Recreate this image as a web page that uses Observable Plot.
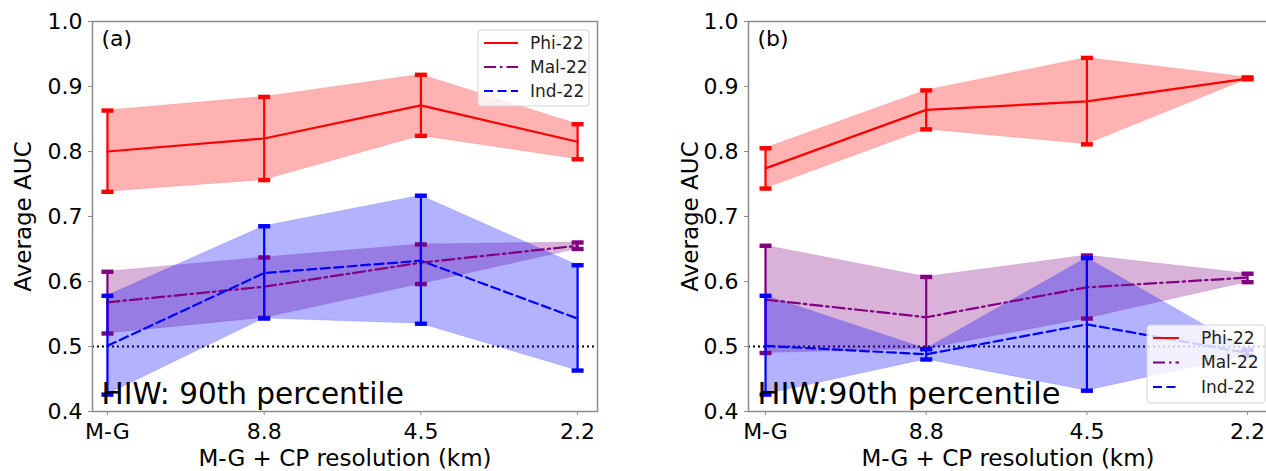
<!DOCTYPE html>
<html>
<head>
<meta charset="utf-8">
<script src="https://cdn.jsdelivr.net/npm/d3@7"></script>
<script src="https://cdn.jsdelivr.net/npm/@observablehq/plot@0.6"></script>
<style>
  html, body { margin: 0; padding: 0; background: #fff; overflow: hidden; width: 1266px; height: 471px; }
  #wrap { position: relative; width: 1266px; height: 471px; }
  #wrap svg { position: absolute; top: 0; overflow: visible; }
</style>
</head>
<body>
<div id="wrap"></div>
<script>
// Model set-up along the x axis and the three events
const resolutions = ["M-G", "8.8", "4.5", "2.2"];
const regions = ["Phi-22", "Mal-22", "Ind-22"];
const yTicks = [0.4, 0.5, 0.6, 0.7, 0.8, 0.9, 1.0];
const chance = 0.5;
const xTitle = "M-G + CP resolution (km)";
const yTitle = "Average AUC";

// Panel (a): mean AUC with lower / upper bounds
const aPhiMean = [0.800, 0.820, 0.871, 0.815];
const aPhiLow  = [0.738, 0.756, 0.824, 0.788];
const aPhiHigh = [0.863, 0.884, 0.918, 0.842];
const aMalMean = [0.568, 0.592, 0.629, 0.655];
const aMalLow  = [0.520, 0.544, 0.596, 0.650];
const aMalHigh = [0.615, 0.637, 0.657, 0.660];
const aIndMean = [0.501, 0.613, 0.632, 0.543];
const aIndLow  = [0.426, 0.543, 0.535, 0.463];
const aIndHigh = [0.578, 0.685, 0.732, 0.625];

// Panel (b)
const bPhiMean = [0.774, 0.864, 0.877, 0.912];
const bPhiLow  = [0.743, 0.834, 0.811, 0.911];
const bPhiHigh = [0.805, 0.894, 0.944, 0.914];
const bMalMean = [0.572, 0.545, 0.591, 0.606];
const bMalLow  = [0.490, 0.496, 0.543, 0.599];
const bMalHigh = [0.655, 0.607, 0.640, 0.612];
const bIndMean = [0.501, 0.488, 0.534, 0.490];
const bIndLow  = [0.426, 0.480, 0.432, 0.486];
const bIndHigh = [0.578, 0.496, 0.636, 0.495];

const colors = { "Phi-22": "#ff0000", "Mal-22": "#800080", "Ind-22": "#0000ff" };
const dashes = { "Phi-22": null, "Mal-22": "12,4,2.5,4", "Ind-22": "9,4.5" };
const FONT = "DejaVu Sans, sans-serif";

function rows(mean, low, high) {
  return mean.map((m, i) => ({ i, mean: m, lo: low[i], hi: high[i] }));
}

const panels = [
  {
    tag: "(a)", note: "HIW: 90th percentile", noteSize: 29.5, left: 0, width: 620, marginLeft: 92, marginRight: 23,
    xDomain: [-0.0955, 3.127], yTitleDx: -69,
    series: {
      "Phi-22": rows(aPhiMean, aPhiLow, aPhiHigh),
      "Mal-22": rows(aMalMean, aMalLow, aMalHigh),
      "Ind-22": rows(aIndMean, aIndLow, aIndHigh)
    },
    legend: { x: 478, y: 30, w: 111, h: 76, rowH: 24, pad: 6, sample: 34, gap: 12 }
  },
  {
    tag: "(b)", note: "HIW:90th percentile", noteSize: 30.5, left: 640, width: 640, marginLeft: 108, marginRight: 13,
    xDomain: [-0.106, 3.124], yTitleDx: -58,
    series: {
      "Phi-22": rows(bPhiMean, bPhiLow, bPhiHigh),
      "Mal-22": rows(bMalMean, bMalLow, bMalHigh),
      "Ind-22": rows(bIndMean, bIndLow, bIndHigh)
    },
    legend: { x: 1147 - 640, y: 325, w: 118, h: 78, rowH: 24.5, pad: 6, sample: 26, gap: 22 }
  }
];

// error-bar cap: a short thick horizontal bar
const capSymbol = { draw(ctx) { ctx.moveTo(-6, -2.2); ctx.lineTo(6, -2.2); ctx.lineTo(6, 2.2); ctx.lineTo(-6, 2.2); ctx.closePath(); } };

const wrap = document.getElementById("wrap");

for (const p of panels) {
  const marks = [
    Plot.ruleY([chance], { stroke: "#000", strokeWidth: 2, strokeDasharray: "2,3" })
  ];
  for (const r of regions) {
    marks.push(Plot.areaY(p.series[r], { x: "i", y1: "lo", y2: "hi", fill: colors[r], fillOpacity: 0.3, stroke: colors[r], strokeOpacity: 0.12, curve: "linear" }));
  }
  for (const r of regions) {
    const d = p.series[r];
    marks.push(Plot.ruleX(d, { x: "i", y1: "lo", y2: "hi", stroke: colors[r], strokeWidth: 2.2 }));
    marks.push(Plot.dot(d, { x: "i", y: "lo", symbol: capSymbol, fill: colors[r], stroke: "none", r: 3 }));
    marks.push(Plot.dot(d, { x: "i", y: "hi", symbol: capSymbol, fill: colors[r], stroke: "none", r: 3 }));
    marks.push(Plot.lineY(d, { x: "i", y: "mean", stroke: colors[r], strokeWidth: 2.2, strokeDasharray: dashes[r] }));
  }
  marks.push(
    Plot.frame({ stroke: "#8c8c8c", strokeWidth: 1.5 }),
    Plot.axisY({
      ticks: yTicks, tickFormat: d3.format(".1f"), tickSize: 4, tickPadding: 6,
      label: null, fontSize: 22, stroke: "#8c8c8c"
    }),
    Plot.axisX({
      ticks: [0, 1, 2, 3], tickFormat: (i) => resolutions[i], tickSize: 4, tickPadding: 8,
      label: null, fontSize: 22, stroke: "#8c8c8c"
    }),
    Plot.text([yTitle], { frameAnchor: "left", rotate: -90, dx: p.yTitleDx, fontSize: 23, fill: "#000", textAnchor: "middle", lineAnchor: "middle" }),
    Plot.text([xTitle], { frameAnchor: "bottom", dy: 47, fontSize: 23, fill: "#000", textAnchor: "middle", lineAnchor: "middle" }),
    Plot.text([p.tag], { frameAnchor: "top-left", dx: 9, dy: 9, fontSize: 22, fill: "#000", textAnchor: "start" }),
    Plot.text([p.note], { frameAnchor: "bottom-left", dx: 9, dy: -8, fontSize: p.noteSize, fill: "#000", textAnchor: "start", lineAnchor: "bottom" })
  );

  const chart = Plot.plot({
    width: p.width,
    height: 471,
    marginLeft: p.marginLeft,
    marginRight: p.marginRight,
    marginTop: 21,
    marginBottom: 60,
    x: { domain: p.xDomain },
    y: { domain: [0.4, 1.0] },
    style: { fontFamily: FONT, fontSize: "21px", color: "#000", background: "transparent", overflow: "visible" },
    marks
  });
  chart.style.left = p.left + "px";
  wrap.appendChild(chart);

  // legend box with line samples
  const L = p.legend;
  const svg = d3.select(chart);
  const g = svg.append("g").attr("font-family", FONT).attr("text-anchor", "start");
  g.append("rect").attr("x", L.x).attr("y", L.y).attr("width", L.w).attr("height", L.h)
    .attr("rx", 3).attr("fill", "#fff").attr("fill-opacity", 0.8).attr("stroke", "#d4d4d4").attr("stroke-width", 1);
  regions.forEach((r, k) => {
    const cy = L.y + 13 + k * L.rowH;
    g.append("line").attr("x1", L.x + L.pad).attr("x2", L.x + L.pad + L.sample).attr("y1", cy).attr("y2", cy)
      .attr("stroke", colors[r]).attr("stroke-width", 2).attr("stroke-dasharray", dashes[r]);
    g.append("text").attr("x", L.x + L.pad + L.sample + L.gap).attr("y", cy).attr("dy", "0.35em")
      .attr("text-anchor", "start").attr("font-size", 17).attr("fill", "#222").text(r);
  });
}
</script>
</body>
</html>
